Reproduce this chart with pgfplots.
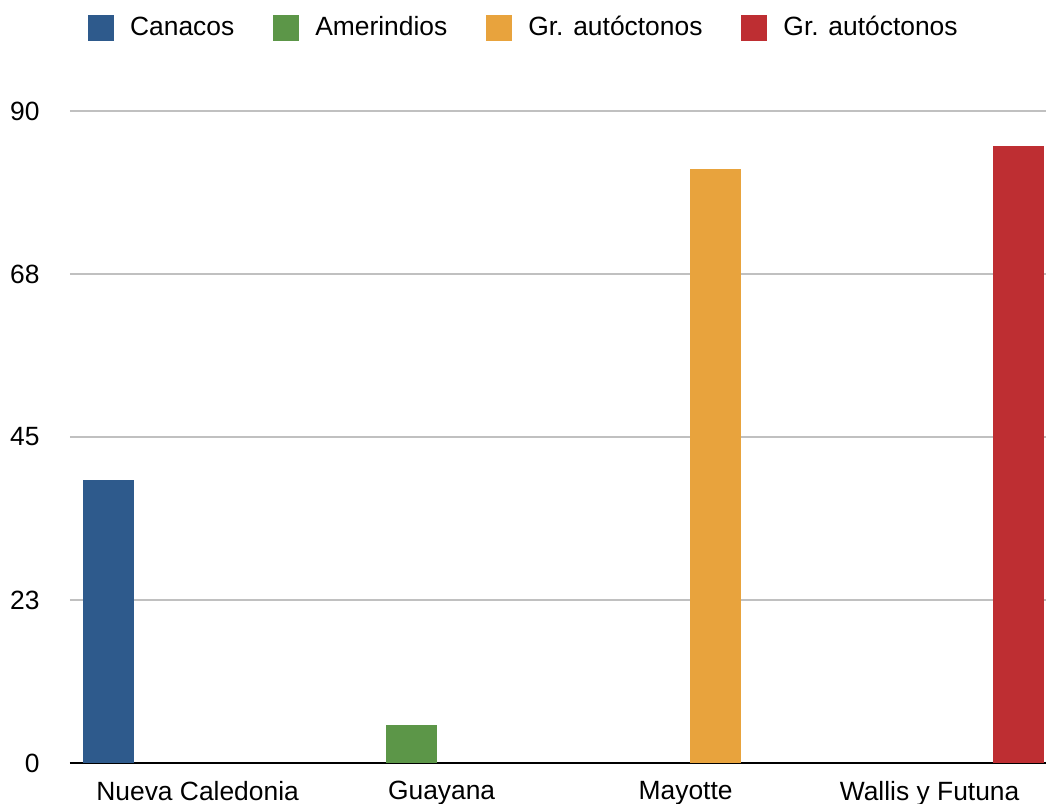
\documentclass[border=0pt]{standalone}
\usepackage{fontspec}
\setmainfont{Liberation Sans}
\usepackage{pgfplots}
\pgfplotsset{compat=1.18}
\definecolor{cBlue}{HTML}{2E5A8C}
\definecolor{cGreen}{HTML}{5C9648}
\definecolor{cOrange}{HTML}{E8A33D}
\definecolor{cRed}{HTML}{BE2E32}
\definecolor{cGrid}{HTML}{C0C0C0}
\begin{document}
\begin{tikzpicture}
\begin{axis}[
  at={(0,0)}, anchor=south west,
  scale only axis,
  width=488pt, height=326pt,
  xmin=-0.523, xmax=3.477,
  ymin=0, ymax=90,
  ybar, bar width=0.209,
  axis x line*=bottom, axis y line*=left,
  y axis line style={draw=none},
  x axis line style={black, line width=1.2pt, -},
  major tick length=0pt,
  xtick={0,1,2,3},
  xticklabels={Nueva Caledonia, Guayana, Mayotte, Wallis y Futuna},
  ytick={0,22.5,45,67.5,90},
  yticklabels={0,23,45,68,90},
  /pgf/number format/assume math mode=true,
  ymajorgrids, grid style={cGrid, line width=1pt},
  yticklabel style={font=\fontsize{13.2}{15.8}\selectfont, inner sep=0pt, anchor=east, xshift=-15pt},
  xticklabel style={font=\fontsize{13.2}{15.8}\selectfont, inner sep=0pt, anchor=north, yshift=-9pt},
  legend columns=4,
  legend style={at={(0.464,1.128)}, anchor=center, draw=none, fill=none,
    font=\fontsize{13.2}{15.8}\selectfont,
    nodes={inner sep=0pt},
    /tikz/every odd column/.append style={column sep=8pt},
    /tikz/every even column/.append style={column sep=19.5pt}},
  legend image code/.code={\fill[#1] (0pt,-6.5pt) rectangle (13pt,6.5pt);},
]
\addplot[fill=cBlue, draw=none, bar shift=-0.3645] coordinates {(0,39)};
\addlegendentry{Canacos}
\addplot[fill=cGreen, draw=none, bar shift=-0.1215] coordinates {(1,5.3)};
\addlegendentry{Amerindios}
\addplot[fill=cOrange, draw=none, bar shift=0.1215] coordinates {(2,82)};
\addlegendentry{Gr. autóctonos}
\addplot[fill=cRed, draw=none, bar shift=0.3645] coordinates {(3,85.2)};
\addlegendentry{Gr. autóctonos}
\end{axis}
\pgfresetboundingbox
\path[use as bounding box] (-35pt,-20.5pt) rectangle (488pt,381.5pt);
\end{tikzpicture}
\end{document}
